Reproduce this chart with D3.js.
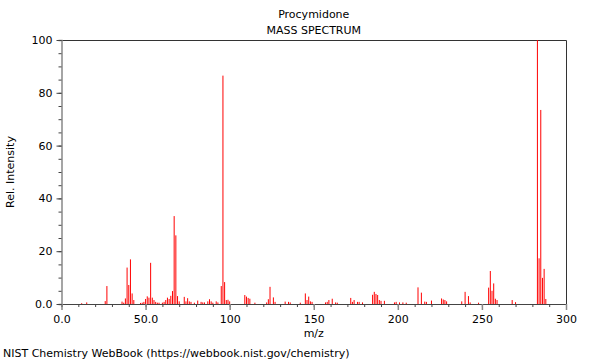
<!DOCTYPE html>
<html>
<head>
<meta charset="utf-8">
<script src="https://cdn.jsdelivr.net/npm/d3@7"></script>
<style>
  body { margin: 0; background: #fff; }
  svg text { font-family: "DejaVu Sans", sans-serif; fill: #000; }
</style>
</head>
<body>
<div id="chart"></div>
<script>
// peak list: m/z and relative intensity
var mz = [12, 15, 26, 27, 36, 37, 38, 39, 40, 41, 42, 43, 47, 48, 49, 50, 51, 52, 53, 54,
  55, 56, 57, 58, 60, 61, 62, 63, 64, 65, 66, 67, 68, 69, 70, 73, 74, 75, 76, 77,
  79, 81, 83, 84, 85, 87, 88, 89, 90, 92, 93, 95, 96, 97, 98, 99, 100, 109, 110, 111,
  112, 115, 122, 123, 124, 126, 127, 133, 135, 136, 142, 145, 146, 147, 148, 149, 157, 158, 159, 161,
  163, 164, 172, 173, 174, 176, 177, 179, 185, 186, 187, 188, 189, 190, 192, 198, 199, 201, 203, 205,
  212, 214, 216, 217, 220, 226, 227, 228, 229, 238, 240, 242, 243, 248, 254, 255, 256, 257, 258, 259,
  268, 270, 283, 284, 285, 286, 287, 288];
var intensity = [0.3, 0.6, 1.1, 6.8, 0.9, 0.5, 2.1, 13.8, 7.2, 16.9, 4.0, 1.5, 0.4, 0.5, 0.8, 1.9, 2.9, 2.4, 15.6, 2.4,
  1.5, 0.8, 0.5, 0.5, 0.5, 0.8, 1.5, 2.4, 1.9, 3.1, 4.9, 33.3, 26.0, 3.0, 1.0, 2.7, 1.0, 2.2, 1.0, 0.8,
  0.5, 1.3, 0.8, 0.6, 0.6, 1.0, 1.8, 1.0, 0.5, 1.0, 0.6, 6.8, 86.5, 8.3, 1.5, 1.6, 1.0, 3.4, 2.8, 2.3,
  2.0, 0.5, 0.6, 1.8, 6.5, 2.5, 0.8, 0.9, 0.8, 0.6, 0.5, 4.0, 1.5, 2.8, 1.0, 0.8, 0.6, 0.8, 1.5, 2.0,
  0.6, 0.5, 2.3, 0.8, 1.5, 0.8, 0.8, 0.6, 3.5, 4.6, 3.8, 3.4, 1.5, 1.2, 1.2, 0.6, 0.8, 0.6, 0.6, 0.5,
  6.3, 4.3, 0.9, 0.8, 1.3, 2.1, 1.7, 1.5, 1.0, 1.0, 4.6, 3.0, 0.6, 0.5, 6.2, 12.5, 5.0, 7.8, 2.0, 1.5,
  1.5, 0.7, 100, 17.3, 73.5, 9.9, 13.3, 1.9];

var x_major = [0, 50, 100, 150, 200, 250, 300];
var x_minor = d3.range(0, 301, 10);
var y_major = [0, 20, 40, 60, 80, 100];
var y_minor = d3.range(0, 101, 5);

var title = "Procymidone";
var subtitle = "MASS SPECTRUM";
var x_title = "m/z";
var y_title = "Rel. Intensity";
var footer = "NIST Chemistry WebBook (https://webbook.nist.gov/chemistry)";

var w = 600, h = 360;
var left = 61.5, right = 566, top_ = 40, bottom = 304;

var x_ax = d3.scaleLinear().domain([0, 300]).range([left, right]);
var y_ax = d3.scaleLinear().domain([0, 100]).range([bottom, top_]);

var svg = d3.select("#chart").append("svg")
  .attr("width", w)
  .attr("height", h);

// frame top and right
svg.append("path")
  .attr("d", "M" + left + "," + (top_ + 0.5) + "H" + (right + 0.5) + "V" + bottom)
  .attr("fill", "none")
  .attr("stroke", "#333")
  .attr("stroke-width", 1);

// peaks
var peaks = mz.map(function(m, i) { return {mz: m, v: intensity[i]}; });
svg.selectAll(".peak")
  .data(peaks)
  .enter()
    .append("line")
    .attr("class", "peak")
    .attr("x1", function(d) { return x_ax(d.mz); })
    .attr("x2", function(d) { return x_ax(d.mz); })
    .attr("y1", y_ax(0))
    .attr("y2", function(d) { return y_ax(d.v); })
    .attr("stroke", "#ff0000")
    .attr("stroke-width", 1);

// x axis: minor then major ticks
svg.append("g")
  .attr("transform", "translate(0," + bottom + ")")
  .call(d3.axisBottom(x_ax).tickValues(x_minor).tickSize(3).tickFormat(""))
  .call(function(g) {
    g.select(".domain").attr("stroke", "#444");
    g.selectAll(".tick line").attr("stroke", "#444");
  });
svg.append("g")
  .attr("transform", "translate(0," + bottom + ")")
  .call(d3.axisBottom(x_ax).tickValues(x_major).tickSize(6).tickPadding(5)
    .tickFormat(function(d) { return d < 100 ? d.toFixed(1) : String(d); }))
  .call(function(g) {
    g.select(".domain").remove();
    g.selectAll(".tick line").attr("stroke", "#888").attr("stroke-width", 1.5);
    g.selectAll(".tick text").attr("font-size", 11).attr("font-family", "DejaVu Sans");
  });

// y axis
svg.append("g")
  .attr("transform", "translate(" + left + ",0)")
  .call(d3.axisLeft(y_ax).tickValues(y_minor).tickSize(3).tickFormat(""))
  .call(function(g) {
    g.select(".domain").attr("stroke", "#888").attr("stroke-width", 1.5);
    g.selectAll(".tick line").attr("stroke", "#444");
  });
svg.append("g")
  .attr("transform", "translate(" + left + ",0)")
  .call(d3.axisLeft(y_ax).tickValues(y_major).tickSize(5).tickPadding(4)
    .tickFormat(function(d) { return d === 0 ? "0.0" : String(d); }))
  .call(function(g) {
    g.select(".domain").remove();
    g.selectAll(".tick line").attr("stroke", "#444");
    g.selectAll(".tick text").attr("font-size", 11).attr("font-family", "DejaVu Sans");
  });

// titles
var cx = (left + right) / 2;
svg.append("text").attr("x", cx).attr("y", 18).attr("text-anchor", "middle")
  .attr("font-size", 11).text(title);
svg.append("text").attr("x", cx).attr("y", 34).attr("text-anchor", "middle")
  .attr("font-size", 11).text(subtitle);
svg.append("text").attr("x", cx).attr("y", 337).attr("text-anchor", "middle")
  .attr("font-size", 11).text(x_title);
svg.append("text")
  .attr("transform", "translate(14," + ((top_ + bottom) / 2) + ") rotate(-90)")
  .attr("text-anchor", "middle")
  .attr("font-size", 11).text(y_title);
svg.append("text").attr("x", 3).attr("y", 357)
  .attr("font-size", 11).text(footer);
</script>
</body>
</html>
